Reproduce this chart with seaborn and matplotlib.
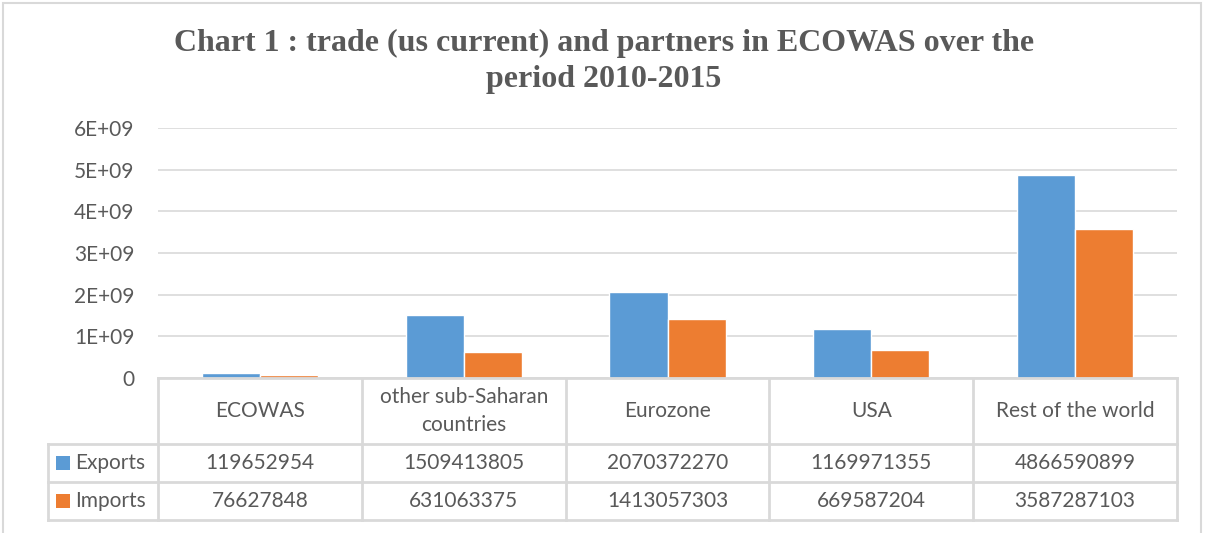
import matplotlib
matplotlib.use("Agg")
import matplotlib.pyplot as plt
import matplotlib.transforms as mtransforms
from matplotlib.patches import Rectangle
import seaborn as sns
import pandas as pd

# ---- data ----
categories = ["ECOWAS", "other sub-Saharan\ncountries", "Eurozone", "USA", "Rest of the world"]
exports = [119652954, 1509413805, 2070372270, 1169971355, 4866590899]
imports = [76627848, 631063375, 1413057303, 669587204, 3587287103]
series_names = ["Exports", "Imports"]
y_ticks = [0, 1e9, 2e9, 3e9, 4e9, 5e9, 6e9]
y_tick_labels = ["0", "1E+09", "2E+09", "3E+09", "4E+09", "5E+09", "6E+09"]
title_lines = ["Chart 1 : trade (us current) and partners in ECOWAS over the",
               "period 2010-2015"]

colors = ["#5B9BD5", "#ED7D31"]
text_color = "#595959"
line_color = "#D9D9D9"

df = pd.DataFrame({
    "category": categories * 2,
    "series": [series_names[0]] * len(categories) + [series_names[1]] * len(categories),
    "value": exports + imports,
})

sns.set_theme(style="white")
plt.rcParams["font.family"] = ["Lato", "DejaVu Sans"]

W, H = 1205, 533
fig = plt.figure(figsize=(W / 100, H / 100), dpi=100)

def fx(px):
    return px / W

def fy(py):
    return 1 - py / H

left, right, top, bottom = 158, 1177, 128, 378
ax = fig.add_axes([fx(left), fy(bottom), fx(right - left), (bottom - top) / H])

sns.barplot(data=df, x="category", y="value", hue="series", order=categories,
            hue_order=series_names, palette=colors, width=0.57, gap=0,
            saturation=1, ax=ax, legend=False, zorder=3)

ax.set_xlim(-0.5, len(categories) - 0.5)
ax.set_ylim(0, 6e9)
ax.set_yticks(y_ticks)
ax.set_yticklabels(y_tick_labels)
ax.yaxis.grid(True, color=line_color, linewidth=1.2, zorder=0)
ax.xaxis.grid(False)
for s in ax.spines.values():
    s.set_visible(False)
fs = 15
ax.tick_params(axis="y", length=0, pad=17, labelsize=fs, labelcolor=text_color)
ax.tick_params(axis="x", length=0)
ax.set_xticks([])
ax.set_xlabel("")
ax.set_ylabel("")

# ---- data table ----
tr = mtransforms.blended_transform_factory(ax.transData, fig.transFigure)
lw = 2.0
x0 = -0.5
x_lab = -0.5 - (158 - 48) / ((right - left) / len(categories))
xn = len(categories) - 0.5
row_y = [378, 444, 482, 520]

def hline(xa, xb, py):
    ax.plot([xa, xb], [fy(py), fy(py)], transform=tr, color=line_color, lw=lw,
            clip_on=False, zorder=4, solid_capstyle="projecting")

def vline(x, pa, pb):
    ax.plot([x, x], [fy(pa), fy(pb)], transform=tr, color=line_color, lw=lw,
            clip_on=False, zorder=4, solid_capstyle="projecting")

hline(x0, xn, row_y[0])
for py in row_y[1:]:
    hline(x_lab, xn, py)
for i in range(len(categories) + 1):
    vline(i - 0.5, row_y[0], row_y[3])
vline(x_lab, row_y[1], row_y[3])

for i, c in enumerate(categories):
    ax.text(i, fy((row_y[0] + row_y[1]) / 2), c, transform=tr, ha="center", va="center",
            fontsize=fs, color=text_color, linespacing=1.5)
    ax.text(i, fy((row_y[1] + row_y[2]) / 2), str(exports[i]), transform=tr,
            ha="center", va="center", fontsize=fs, color=text_color)
    ax.text(i, fy((row_y[2] + row_y[3]) / 2), str(imports[i]), transform=tr,
            ha="center", va="center", fontsize=fs, color=text_color)

for k, name in enumerate(series_names):
    cy = (row_y[1 + k] + row_y[2 + k]) / 2
    fig.patches.append(Rectangle((fx(56), fy(cy + 7)), fx(14), 14 / H,
                                 transform=fig.transFigure, facecolor=colors[k],
                                 edgecolor="none"))
    fig.text(fx(75), fy(cy), name, ha="left", va="center", fontsize=fs, color=text_color)

# ---- title ----
for ty, line in zip([51, 87], title_lines):
    fig.text(0.5012, fy(ty), line, ha="center", va="baseline", fontsize=23,
             fontweight="bold", color=text_color,
             family=["Liberation Serif", "DejaVu Serif"])

# outer frame
fig.patches.append(Rectangle((fx(2.5), fy(560)), fx(1198), 557.5 / H,
                             transform=fig.transFigure, facecolor="none",
                             edgecolor=line_color, lw=1.5))

fig.savefig("out.png", dpi=100)
